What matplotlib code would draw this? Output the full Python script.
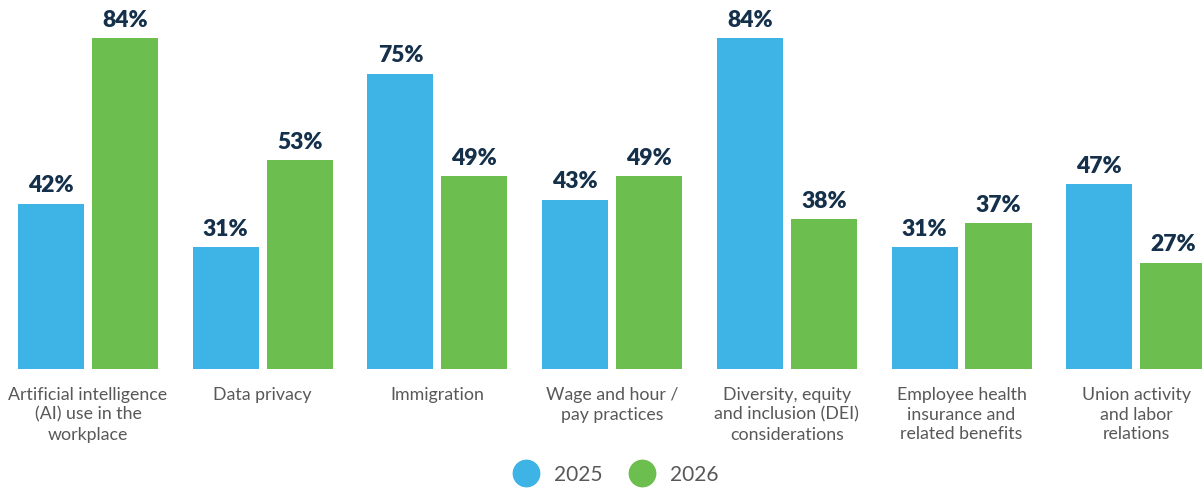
import matplotlib.pyplot as plt
from matplotlib.lines import Line2D
import numpy as np

categories = [
    'Artificial intelligence\n(AI) use in the\nworkplace',
    'Data privacy',
    'Immigration',
    'Wage and hour /\npay practices',
    'Diversity, equity\nand inclusion (DEI)\nconsiderations',
    'Employee health\ninsurance and\nrelated benefits',
    'Union activity\nand labor\nrelations',
]
values_2025 = [42, 31, 75, 43, 84, 31, 47]
values_2026 = [84, 53, 49, 49, 38, 37, 27]
series_labels = ['2025', '2026']

blue = '#3DB3E6'
green = '#6CBF4E'
navy = '#14304A'
grey = '#585858'

plt.rcParams['font.family'] = ['Lato', 'DejaVu Sans']

fig = plt.figure(figsize=(12.02, 4.89), dpi=100)
# plot area: from the bar baseline up to the top edge, full width
ax = fig.add_axes([0, (489 - 370) / 489, 1, 370 / 489])

step = 174.7  # px between group centres
x = np.arange(len(categories))
width = 66 / step
gap = 8 / step

bars_a = ax.bar(x - (width + gap) / 2, values_2025, width, color=blue)
bars_b = ax.bar(x + (width + gap) / 2, values_2026, width, color=green)

for bars in (bars_a, bars_b):
    for b in bars:
        ax.annotate(f'{int(b.get_height())}%',
                    (b.get_x() + b.get_width() / 2, b.get_height()),
                    xytext=(0, 6), textcoords='offset points',
                    ha='center', va='bottom', fontsize=16.5,
                    fontweight='heavy', color=navy)

ax.set_xlim(-88 / step, (1202 - 88) / step)
ax.set_ylim(0, 94)
ax.axis('off')

for xi, label in zip(x, categories):
    ax.annotate(label, (xi, 0), xytext=(0, -12), textcoords='offset points',
                ha='center', va='top', fontsize=12.8, color=grey,
                linespacing=1.3)

handles = [
    Line2D([], [], marker='o', linestyle='', markersize=19,
           markerfacecolor=c, markeredgecolor=c)
    for c in (blue, green)
]
fig.legend(handles, series_labels, loc='center',
           bbox_to_anchor=(0.509, 1 - 475 / 489),
           ncol=2, frameon=False, fontsize=15, labelcolor=grey,
           handletextpad=0.35, columnspacing=0.9)

fig.savefig('out.png', dpi=100)
